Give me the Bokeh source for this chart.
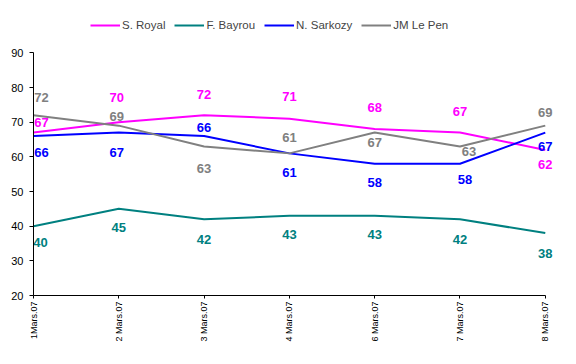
from bokeh.plotting import figure
from bokeh.models import Range1d, FixedTicker, Legend, LegendItem, ColumnDataSource
from bokeh.core.properties import value
from bokeh.embed import file_html
from bokeh.resources import INLINE

dates = ["1Mars.07", "2 Mars.07", "3 Mars.07", "4 Mars.07", "6 Mars.07", "7 Mars.07", "8 Mars.07"]
royal = [67, 70, 72, 71, 68, 67, 62]
bayrou = [40, 45, 42, 43, 43, 42, 38]
sarkozy = [66, 67, 66, 61, 58, 58, 67]
lepen = [72, 69, 63, 61, 67, 63, 69]
y_ticks = [20, 30, 40, 50, 60, 70, 80, 90]

names = ["S. Royal", "F. Bayrou", "N. Sarkozy", "JM Le Pen"]
series = [royal, bayrou, sarkozy, lepen]
colors = ["#FF00FF", "#008080", "#0000FF", "#808080"]

# label offsets in screen pixels (positive y = down)
label_dx = [
    [8, -2, 0, 0, 0, 0, 0],
    [7, 0, 0, 0, 0, 0, 0],
    [8, -2, 0, 0, 0, 5, 0],
    [8, -2, 0, 0, 0, 9, 0],
]
label_dy = [
    [-10, -25, -21, -22, -22, -21, 15],
    [16, 19, 20, 19, 19, 20, 20],
    [16, 20, -9, 19, 19, 16, 14],
    [-18, -9, 22, -16, 10, 5, -13],
]

xs = list(range(len(dates)))
n = len(dates) - 1

p = figure(width=576, height=364, output_backend="svg", toolbar_location=None,
           x_range=Range1d(0, n * 1.061), y_range=Range1d(20, 105.1),
           min_border_left=33, min_border_right=0, min_border_top=0, min_border_bottom=69)
p.outline_line_color = None
p.xgrid.grid_line_color = None
p.ygrid.grid_line_color = None

items = []
for name, vals, col, dx, dy in zip(names, series, colors, label_dx, label_dy):
    src = ColumnDataSource(data=dict(x=xs, y=vals, t=[str(v) for v in vals], dx=dx, dy=dy))
    r = p.line(x="x", y="y", source=src, line_color=col, line_width=2)
    items.append(LegendItem(label=name, renderers=[r]))
    p.text(x="x", y="y", text="t", source=src, x_offset="dx", y_offset="dy",
           text_color=col, text_font=value("Liberation Sans"), text_font_style="bold",
           text_font_size="13px", text_align="center", text_baseline="middle")

# axes
p.xaxis.bounds = (0, n)
p.xaxis.ticker = FixedTicker(ticks=xs)
p.xaxis.major_label_overrides = {i: d for i, d in enumerate(dates)}
p.xaxis.major_label_orientation = 1.5708
p.xaxis.major_label_text_font = "Liberation Sans"
p.xaxis.major_label_text_font_size = "9px"
p.xaxis.major_tick_in = 0
p.xaxis.major_tick_out = 3
p.xaxis.minor_tick_line_color = None
p.xaxis.major_label_standoff = 3

p.yaxis.bounds = (y_ticks[0], y_ticks[-1])
p.yaxis.ticker = FixedTicker(ticks=y_ticks)
p.yaxis.major_label_text_font = "Liberation Sans"
p.yaxis.major_label_text_font_size = "11px"
p.yaxis.major_tick_in = 0
p.yaxis.major_tick_out = 4
p.yaxis.minor_tick_line_color = None
p.yaxis.major_label_standoff = 6

p.xaxis.axis_line_color = "black"
p.yaxis.axis_line_color = "black"
p.xaxis.major_tick_line_color = "black"
p.yaxis.major_tick_line_color = "black"
p.xaxis.major_label_text_color = "black"
p.yaxis.major_label_text_color = "black"

legend = Legend(items=items, orientation="horizontal", location=(57, 264),
                label_text_font="Liberation Sans", label_text_font_size="11.5px",
                glyph_width=30, glyph_height=12, label_standoff=2, spacing=9,
                padding=0, margin=0, border_line_color=None, background_fill_alpha=0)
p.add_layout(legend)

open("out.html", "w").write(file_html(p, INLINE))
